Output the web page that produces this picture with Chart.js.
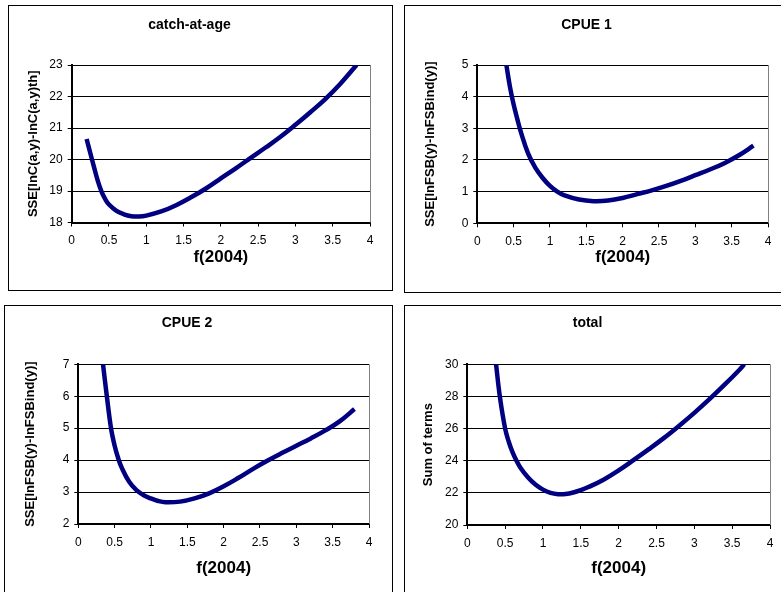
<!DOCTYPE html>
<html lang="en">
<head>
    <meta charset="UTF-8">
    <title>SSE profiles vs f(2004)</title>
    <script src="https://cdn.jsdelivr.net/npm/chart.js"></script>
    <style>
        body { margin: 0; background: #fff; width: 781px; height: 592px; overflow: hidden; position: relative; }
        .panel { position: absolute; border: 1px solid #000; background: #fff; }
        .panel canvas { display: block; }
    </style>
</head>
<body>
    <div class="panel" style="left:8px; top:5px;"><canvas id="c1" width="383" height="284"></canvas></div>
    <div class="panel" style="left:404px; top:5px;"><canvas id="c2" width="388" height="286"></canvas></div>
    <div class="panel" style="left:4px; top:305px;"><canvas id="c3" width="387" height="298"></canvas></div>
    <div class="panel" style="left:404px; top:305px;"><canvas id="c4" width="388" height="298"></canvas></div>

    <script>
        // data
        const xCatch = [0.2, 0.25, 0.3, 0.35, 0.4, 0.45, 0.5, 0.6, 0.7, 0.8, 0.9, 1.0, 1.2, 1.4, 1.6, 1.8, 2.0, 2.2, 2.4, 2.6, 2.8, 3.0, 3.2, 3.4, 3.6, 3.82];
        const yCatch = [20.65, 20.2, 19.75, 19.32, 18.98, 18.74, 18.57, 18.37, 18.26, 18.2, 18.19, 18.22, 18.35, 18.55, 18.8, 19.08, 19.4, 19.72, 20.05, 20.38, 20.72, 21.1, 21.5, 21.92, 22.4, 23.0];

        const xCpue1 = [0.4, 0.45, 0.5, 0.55, 0.6, 0.7, 0.8, 0.9, 1.0, 1.1, 1.2, 1.4, 1.6, 1.8, 2.0, 2.2, 2.4, 2.6, 2.8, 3.0, 3.2, 3.4, 3.6, 3.8];
        const yCpue1 = [5.0, 4.3, 3.75, 3.3, 2.88, 2.2, 1.75, 1.43, 1.18, 1.0, 0.88, 0.75, 0.7, 0.72, 0.8, 0.92, 1.04, 1.18, 1.34, 1.52, 1.7, 1.9, 2.15, 2.45];

        const xCpue2 = [0.34, 0.39, 0.45, 0.5, 0.55, 0.6, 0.7, 0.8, 0.9, 1.0, 1.1, 1.2, 1.4, 1.6, 1.8, 2.0, 2.2, 2.4, 2.6, 2.8, 3.0, 3.2, 3.4, 3.6, 3.8];
        const yCpue2 = [7.0, 6.05, 5.0, 4.45, 4.05, 3.75, 3.32, 3.06, 2.9, 2.8, 2.72, 2.68, 2.7, 2.8, 2.96, 3.18, 3.44, 3.72, 3.98, 4.22, 4.45, 4.68, 4.93, 5.22, 5.6];

        const xTotal = [0.38, 0.43, 0.5, 0.55, 0.6, 0.65, 0.7, 0.8, 0.9, 1.0, 1.1, 1.2, 1.3, 1.4, 1.5, 1.6, 1.8, 2.0, 2.2, 2.4, 2.6, 2.8, 3.0, 3.2, 3.4, 3.6, 3.66];
        const yTotal = [30, 28, 26, 25.15, 24.5, 24.0, 23.58, 22.97, 22.52, 22.2, 22.0, 21.92, 21.93, 22.02, 22.17, 22.36, 22.82, 23.4, 24.05, 24.72, 25.42, 26.18, 26.98, 27.83, 28.73, 29.68, 30.0];

        const titles = ['catch-at-age', 'CPUE 1', 'CPUE 2', 'total'];
        const yTitles = ['SSE[lnC(a,y)-lnC(a,y)th]', 'SSE[lnFSB(y)-lnFSBind(y)]', 'SSE[lnFSB(y)-lnFSBind(y)]', 'Sum of terms'];
        const xTitle = 'f(2004)';
        const yRanges = [[18, 23, 1], [0, 5, 1], [2, 7, 1], [20, 30, 2]];
        const xRange = [0, 4, 0.5];

        const FONT = "'Liberation Sans', Arial, sans-serif";

        // gray right edge of the plot area, like the excel frame
        const frame = {
            id: 'frame',
            beforeDatasetsDraw(chart) {
                const a = chart.chartArea, c = chart.ctx;
                c.save();
                c.strokeStyle = '#808080';
                c.lineWidth = 1;
                c.beginPath();
                c.moveTo(Math.round(a.right) + 0.5, a.top);
                c.lineTo(Math.round(a.right) + 0.5, a.bottom);
                c.stroke();
                c.restore();
            }
        };

        function makePanel(id, xs, ys, i, lay) {
            const pts = xs.map((x, k) => ({ x: x, y: ys[k] }));
            const yr = yRanges[i];
            return new Chart(document.getElementById(id), {
                type: 'line',
                data: {
                    datasets: [{
                        data: pts,
                        borderColor: '#000080',
                        borderWidth: 4.5,
                        pointRadius: 0,
                        tension: 0.4,
                        fill: false
                    }]
                },
                plugins: [frame],
                options: {
                    responsive: false,
                    animation: false,
                    devicePixelRatio: 1,
                    layout: { padding: { left: 0, right: lay.right, top: 0, bottom: 0 } },
                    plugins: {
                        legend: { display: false },
                        tooltip: { enabled: false },
                        title: {
                            display: true,
                            text: titles[i],
                            color: '#000',
                            font: { family: FONT, size: 14, weight: 'bold', lineHeight: 1.2 },
                            padding: { top: lay.tTop, bottom: lay.tBottom }
                        }
                    },
                    scales: {
                        x: {
                            type: 'linear',
                            min: xRange[0], max: xRange[1],
                            afterFit: s => { s.height = lay.xh; },
                            ticks: {
                                stepSize: xRange[2],
                                color: '#000',
                                padding: 7,
                                maxRotation: 0,
                                font: { family: FONT, size: 12 },
                                callback: v => String(v)
                            },
                            grid: { drawOnChartArea: false, drawTicks: true, tickLength: 4, color: '#000' },
                            border: { color: '#000', width: 2 },
                            title: {
                                display: true,
                                text: xTitle,
                                color: '#000',
                                font: { family: FONT, size: 17, weight: 'bold', lineHeight: 1.2 },
                                padding: { top: lay.xt, bottom: lay.xt }
                            }
                        },
                        y: {
                            min: yr[0], max: yr[1],
                            afterFit: s => { s.width = lay.yw; },
                            ticks: {
                                stepSize: yr[2],
                                color: '#000',
                                padding: 5,
                                font: { family: FONT, size: 12 },
                                callback: v => String(v)
                            },
                            grid: { color: '#000', lineWidth: 1, drawTicks: true, tickLength: 4 },
                            border: { color: '#000', width: 2 },
                            title: {
                                display: true,
                                text: yTitles[i],
                                color: '#000',
                                font: { family: FONT, size: 13, weight: 'bold', lineHeight: 1.2 },
                                padding: { top: lay.yt, bottom: lay.yt }
                            }
                        }
                    }
                }
            });
        }

        makePanel('c1', xCatch, yCatch, 0, { right: 22, tTop: 10.6, tBottom: 31.6, yw: 62.7, yt: 16.2, xh: 67.5, xt: 22.8 });
        makePanel('c2', xCpue1, yCpue1, 1, { right: 25, tTop: 10.6, tBottom: 31.6, yw: 72.3, yt: 17.2, xh: 68.7, xt: 24.8 });
        makePanel('c3', xCpue2, yCpue2, 2, { right: 23, tTop: 8.6, tBottom: 32.9, yw: 73.3, yt: 17.2, xh: 80, xt: 25.8 });
        makePanel('c4', xTotal, yTotal, 3, { right: 23, tTop: 8.6, tBottom: 32.9, yw: 62.3, yt: 15.2, xh: 79, xt: 25.8 });
    </script>
</body>
</html>
